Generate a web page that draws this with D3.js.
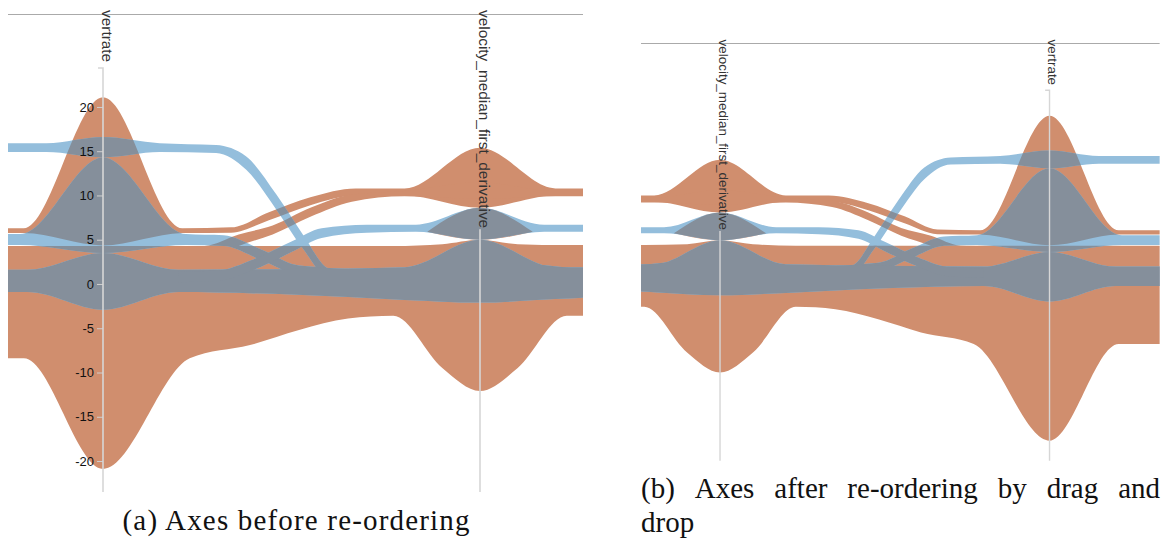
<!DOCTYPE html>
<html>
<head>
<meta charset="utf-8">
<script src="https://cdn.jsdelivr.net/npm/d3@7"></script>
<style>
body { margin: 0; background: #fff; }
svg { display: block; }
.dimlabel { font-family: "Liberation Sans", Arial, Helvetica, sans-serif; font-size: 15.4px; fill: #333; text-anchor: start; }
.tick text { font-family: "Liberation Sans", Arial, Helvetica, sans-serif; font-size: 13px; fill: #111; }
.caption { font-family: "Liberation Serif", "Times New Roman", serif; font-size: 29px; fill: #111; }
</style>
</head>
<body>
<svg width="1170" height="544"></svg>
<script>
var dims = ["vertrate", "velocity_median_first_derivative"];
var vertrateTicks = [-20, -15, -10, -5, 0, 5, 10, 15, 20];
var yDomain = [-23.5, 24.4];

// band knots: [place between the two axes (0 = vertrate, 1 = velocity), low, high]
var orangeUpper = [
  [-0.4, 5.75, 6.3], [-0.21, 5.75, 6.3], [0, 4.35, 21.1], [0.21, 5.75, 6.3],
  [0.34, 5.8, 6.4], [0.44, 7.2, 8.1], [0.55, 8.9, 9.8], [0.67, 10.0, 10.8],
  [0.8, 10.0, 10.8], [1.0, 8.6, 15.4], [1.2, 10.0, 10.8], [1.3, 10.0, 10.8]
];
var orangeRise = [
  [0.2, 2.5, 4.2], [0.27, 2.6, 4.3], [0.36, 4.3, 5.6], [0.45, 5.6, 6.6],
  [0.55, 7.6, 8.6], [0.66, 9.3, 10.1], [0.8, 9.9, 10.5], [1.0, 9.6, 11.5],
  [1.2, 9.9, 10.5], [1.3, 9.9, 10.5]
];
var orangeLower = [
  [-0.4, -8.4, 4.3], [-0.21, -8.4, 4.3], [0, -20.9, 4.3], [0.23, -8.4, 4.3],
  [0.39, -6.9, 4.3], [0.52, -5.2, 4.3], [0.65, -3.9, 4.3], [0.77, -3.6, 4.3],
  [0.9, -9.5, 4.5], [1.0, -12.1, 5.0], [1.1, -9.5, 4.5], [1.23, -3.6, 4.4],
  [1.3, -3.6, 4.4]
];
var orangeMid = [
  [0.86, 5.9, 5.9], [1.0, 5.0, 8.6], [1.14, 5.9, 5.9]
];
var blueTop = [
  [-0.4, 14.9, 15.9], [-0.15, 14.9, 15.9], [0, 14.3, 16.6], [0.15, 14.9, 15.9],
  [0.3, 14.8, 15.7], [0.38, 12.9, 14.4], [0.46, 8.4, 10.1], [0.53, 4.0, 5.6],
  [0.6, 0.5, 1.7], [0.75, -0.5, 0.7], [1.0, -1.0, 1.0], [1.3, -0.5, 0.6]
];
var blueUpper = [
  [-0.4, 4.4, 5.65], [-0.22, 4.4, 5.65], [0, 3.5, 14.3], [0.22, 4.4, 5.65],
  [0.32, 4.3, 5.5], [0.42, 2.7, 3.9], [0.52, 1.0, 2.1], [0.8, 0.3, 1.5],
  [1.0, 0.3, 2.5], [1.3, 0.3, 1.5]
];
var blueLower = [
  [-0.4, -0.9, 1.6], [-0.2, -0.9, 1.6], [0, -2.9, 3.5], [0.2, -0.9, 1.6],
  [0.5, -1.2, 1.7], [0.8, -1.8, 1.9], [1.0, -2.1, 5.0], [1.2, -1.7, 1.9],
  [1.3, -1.5, 1.9]
];
var blueRise = [
  [0.2, 0.2, 1.4], [0.3, 0.3, 1.5], [0.4, 1.6, 2.8], [0.5, 3.6, 4.8],
  [0.58, 5.2, 6.3], [0.7, 5.8, 6.7], [0.83, 5.9, 6.7], [1.0, 5.0, 8.6],
  [1.17, 5.9, 6.7], [1.3, 5.9, 6.7]
];

var orangeBands = [orangeUpper, orangeRise, orangeLower, orangeMid];
var blueBands = [blueTop, blueUpper, blueLower, blueRise];

var colors = {orange: "#d08e6e", blue: "#94bedc", both: "#858f9b"};

var panels = [
  {id: "a", order: ["vertrate", "velocity_median_first_derivative"], tx: 0, ty: 0, k: 1, x0: 8, x1: 583, ticks: true},
  {id: "b", order: ["velocity_median_first_derivative", "vertrate"], tx: 630, ty: 30.8, k: 0.874, x0: 12.6, x1: 606, ticks: false}
];

var svg = d3.select("svg");
var defs = svg.append("defs");

panels.forEach(function(p) {
  var g = svg.append("g")
      .attr("transform", "translate(" + p.tx + "," + p.ty + ") scale(" + p.k + ")");

  var xPos = d3.scalePoint().domain(p.order).range([103, 480]);
  var tx = d3.scaleLinear().domain([0, 1]).range([xPos(dims[0]), xPos(dims[1])]);
  var y = d3.scaleLinear().domain(yDomain).range([492, 68]);

  var area = d3.area()
      .curve(d3.curveMonotoneX)
      .x(function(d) { return tx(d[0]); })
      .y0(function(d) { return y(d[1]); })
      .y1(function(d) { return y(d[2]); });

  function bandPath(knots) {
    var pts = knots.slice().sort(function(a, b) { return tx(a[0]) - tx(b[0]); });
    return area(pts);
  }

  defs.append("clipPath").attr("id", "frame-" + p.id)
    .append("rect")
      .attr("x", p.x0).attr("y", 0)
      .attr("width", p.x1 - p.x0).attr("height", 500);

  var oclip = defs.append("clipPath").attr("id", "orange-" + p.id);
  orangeBands.forEach(function(b) { oclip.append("path").attr("d", bandPath(b)); });

  var bandsG = g.append("g").attr("clip-path", "url(#frame-" + p.id + ")");

  bandsG.append("g").selectAll("path")
      .data(orangeBands)
    .enter().append("path")
      .attr("d", bandPath)
      .attr("fill", colors.orange);

  bandsG.append("g").selectAll("path")
      .data(blueBands)
    .enter().append("path")
      .attr("d", bandPath)
      .attr("fill", colors.blue);

  // where blue runs over orange
  bandsG.append("g").attr("clip-path", "url(#orange-" + p.id + ")")
    .selectAll("path")
      .data(blueBands)
    .enter().append("path")
      .attr("d", bandPath)
      .attr("fill", colors.both);

  g.append("line")
      .attr("x1", p.x0).attr("x2", p.x1)
      .attr("y1", 14.5).attr("y2", 14.5)
      .attr("stroke", "#aaa")
      .attr("stroke-width", 1.2);

  p.order.forEach(function(dim) {
    var ax = g.append("g").attr("transform", "translate(" + xPos(dim) + ",0)");

    if (p.ticks && dim == "vertrate") {
      var tg = ax.append("g")
          .call(d3.axisLeft(y).tickValues(vertrateTicks).tickSize(6).tickPadding(3)
                .tickFormat(function(d) { return String(d); }));
      tg.select(".domain").remove();
      tg.selectAll(".tick line").attr("stroke", "#cfcfcf");
    }

    var label = ax.append("text")
        .attr("class", "dimlabel")
        .attr("transform", "translate(-1.5,10) rotate(90)")
        .text(dim);
    var top = Math.max(68, 10 + label.node().getComputedTextLength() + 1);

    ax.append("path")
        .attr("d", top == 68 ? "M-5,68H0V492" : "M0," + top + "V492")
        .attr("fill", "none")
        .attr("stroke", "#d6d6d6")
        .attr("stroke-width", 1.6);
  });
});

// captions
svg.append("text")
    .attr("class", "caption")
    .attr("x", 296).attr("y", 530)
    .attr("text-anchor", "middle")
    .attr("textLength", 347)
    .attr("lengthAdjust", "spacing")
    .text("(a) Axes before re-ordering");

var captionWords = ["(b)", "Axes", "after", "re-ordering", "by", "drag", "and"];
var lineLeft = 641, lineRight = 1160;
var wordNodes = svg.append("g").selectAll("text")
    .data(captionWords)
  .enter().append("text")
    .attr("class", "caption")
    .attr("y", 498)
    .text(function(d) { return d; });
var widths = [];
wordNodes.each(function() { widths.push(this.getComputedTextLength()); });
var gap = (lineRight - lineLeft - d3.sum(widths)) / (captionWords.length - 1);
var cx = lineLeft;
wordNodes.attr("x", function(d, i) { var x = cx; cx += widths[i] + gap; return x; });

svg.append("text")
    .attr("class", "caption")
    .attr("x", 641).attr("y", 532)
    .text("drop");
</script>
</body>
</html>
